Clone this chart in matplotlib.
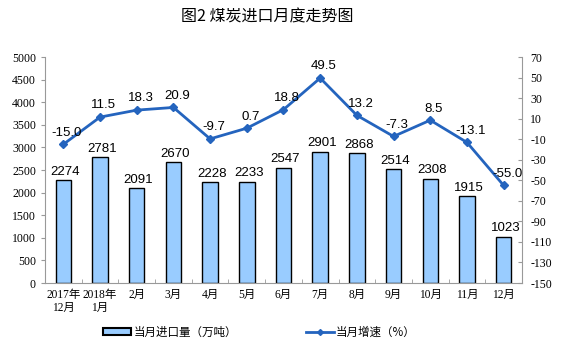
import matplotlib.pyplot as plt
import numpy as np
from matplotlib.lines import Line2D
from matplotlib.patches import Patch

plt.rcParams['font.family'] = ['Liberation Serif', 'Noto Sans CJK SC', 'DejaVu Sans']

months = ['2017年\n12月', '2018年\n1月', '2月', '3月', '4月', '5月', '6月',
          '7月', '8月', '9月', '10月', '11月', '12月']
imports = [2274, 2781, 2091, 2670, 2228, 2233, 2547, 2901, 2868, 2514, 2308, 1915, 1023]
growth = [-15.0, 11.5, 18.3, 20.9, -9.7, 0.7, 18.8, 49.5, 13.2, -7.3, 8.5, -13.1, -55.0]

bar_color = '#99CCFF'
line_color = '#2464BE'
label_font = ['Liberation Sans', 'Noto Sans CJK SC']

fig = plt.figure(figsize=(5.64, 3.55), dpi=100)
ax = fig.add_axes([0.0798, 0.2028, 0.8457, 0.6366])
x = np.arange(len(months))

bars = ax.bar(x, imports, width=0.42, color=bar_color, edgecolor='black', linewidth=1.0, zorder=2)
for b, v in zip(bars, imports):
    ax.text(b.get_x() + b.get_width() / 2 + 0.05, v + 60, str(v), ha='center', va='bottom',
            fontsize=9.5, family=label_font, zorder=5)

ax.set_xlim(-0.5, len(months) - 0.5)
ax.set_ylim(0, 5000)
ax.set_yticks(np.arange(0, 5001, 500))
ax.set_yticklabels([str(v) for v in range(0, 5001, 500)], family='Liberation Serif')
ax.set_xticks(x)
ax.set_xticklabels(months, fontsize=8.3, family=['Liberation Serif', 'Noto Sans CJK SC'],
                   linespacing=1.1)
ax.set_xticks(np.arange(-0.5, len(months), 1), minor=True)
ax.tick_params(axis='x', which='major', length=0, pad=4)
ax.tick_params(axis='x', which='minor', length=3, direction='in', color='#999999')
ax.tick_params(axis='y', labelsize=8.5, length=3, color='#999999', direction='out')
for s in ['top', 'right']:
    ax.spines[s].set_visible(False)
ax.spines['left'].set_color('#999999')
ax.spines['bottom'].set_color('#999999')

ax2 = ax.twinx()
ax2.plot(x, growth, color=line_color, linewidth=2, marker='D', markersize=4, zorder=4)
for xi, g in zip(x, growth):
    ax2.text(xi + 0.1, g + 5.5, f'{g:.1f}', ha='center', va='bottom', fontsize=9.5,
             family=label_font, zorder=5)
ax2.set_ylim(-150, 70)
ax2.set_yticks(np.arange(-150, 71, 20))
ax2.set_yticklabels([str(v) for v in range(-150, 71, 20)], family='Liberation Serif')
ax2.tick_params(axis='y', labelsize=8.5, length=3, color='#999999', direction='in', pad=6)
for s in ['top', 'left', 'bottom']:
    ax2.spines[s].set_visible(False)
ax2.spines['right'].set_color('#999999')

fig.text(0.474, 0.951, '图2 煤炭进口月度走势图', ha='center', va='center', fontsize=11.5,
         family=['Noto Sans CJK SC'], fontweight='medium')

handles = [Patch(facecolor=bar_color, edgecolor='black', linewidth=1.5),
           Line2D([0], [0], color=line_color, linewidth=2, marker='D', markersize=3)]
fig.legend(handles, ['当月进口量（万吨）', '当月增速（%）'], loc='center', ncol=2,
           bbox_to_anchor=(0.46, 0.065), frameon=False, columnspacing=6.0,
           handlelength=2.4, handleheight=0.5, handletextpad=0.2,
           prop={'family': 'Noto Sans CJK SC', 'size': 8.3})

fig.savefig('out.png', dpi=100)
